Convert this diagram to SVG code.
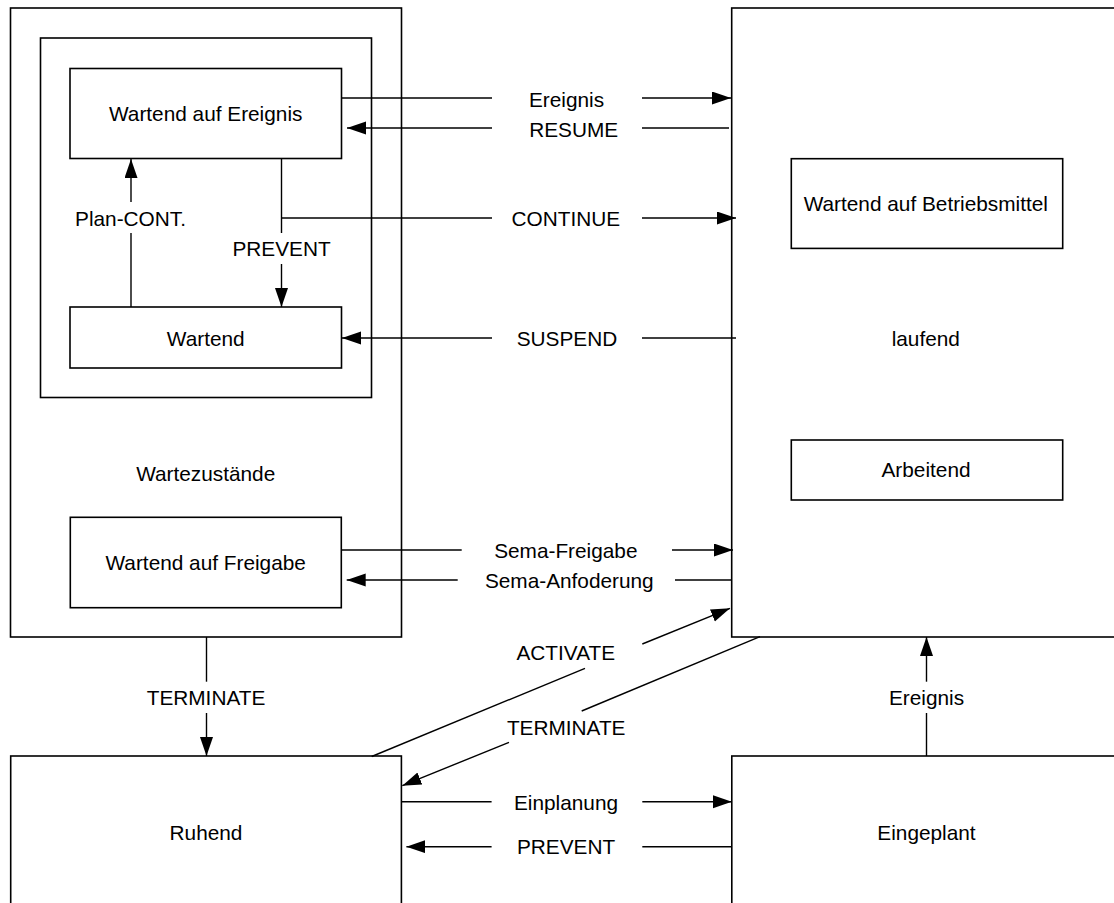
<svg xmlns="http://www.w3.org/2000/svg" width="1114" height="903" viewBox="0 0 1114 903">
  <style>
    .box { fill: none; stroke: #000; stroke-width: 1.6; }
    .ln { fill: none; stroke: #000; stroke-width: 1.4; }
    .arr { marker-end: url(#ah); }
    text { font-family: "Liberation Sans", Arial, sans-serif; font-size: 20.8px; fill: #000; text-anchor: middle; }
  </style>
  <defs>
    <marker id="ah" markerUnits="userSpaceOnUse" markerWidth="20" markerHeight="14" refX="19" refY="6.5" orient="auto">
      <path d="M0,0 L19,6.5 L0,13 z" fill="#000"/>
    </marker>
  </defs>
  <rect width="1114" height="903" fill="#fff"/>

  <!-- waiting states container -->
  <g id="wartezustaende">
    <rect class="box" x="10.5" y="8" width="391" height="629"/>
    <text x="205.7" y="481">Wartezustände</text>
  </g>
  <g id="wartegruppe">
    <rect class="box" x="40.5" y="38" width="331" height="359.5"/>
  </g>
  <g id="wartend-ereignis">
    <rect class="box" x="70" y="68.5" width="271.5" height="90"/>
    <text x="205.7" y="121">Wartend auf Ereignis</text>
  </g>
  <g id="wartend">
    <rect class="box" x="70" y="307" width="271.5" height="61"/>
    <text x="205.7" y="345.7">Wartend</text>
  </g>
  <g id="wartend-freigabe">
    <rect class="box" x="70.3" y="517.3" width="271" height="90.4"/>
    <text x="205.7" y="570">Wartend auf Freigabe</text>
  </g>

  <!-- running state -->
  <g id="laufend">
    <rect class="box" x="731.7" y="8" width="400" height="629"/>
    <text x="925.8" y="346">laufend</text>
  </g>
  <g id="wartend-betriebsmittel">
    <rect class="box" x="791.3" y="158.7" width="271.4" height="89.7"/>
    <text x="925.8" y="211">Wartend auf Betriebsmittel</text>
  </g>
  <g id="arbeitend">
    <rect class="box" x="791.3" y="440" width="271.4" height="60"/>
    <text x="926" y="477.3">Arbeitend</text>
  </g>

  <!-- bottom states -->
  <g id="ruhend">
    <rect class="box" x="10.7" y="756" width="390.7" height="200"/>
    <text x="206" y="840">Ruhend</text>
  </g>
  <g id="eingeplant">
    <rect class="box" x="731.8" y="756" width="400" height="200"/>
    <text x="926.5" y="840">Eingeplant</text>
  </g>

  <!-- transitions -->
  <g id="connectors">
    <path class="ln" d="M341.5,98 H492"/>
    <path class="ln arr" d="M642,98 H731"/>
    <text x="566.5" y="106.7">Ereignis</text>

    <path class="ln" d="M729,128 H642"/>
    <path class="ln arr" d="M492,128 H347"/>
    <text x="573.7" y="136.7">RESUME</text>

    <path class="ln" d="M281.5,158.5 V233"/>
    <path class="ln arr" d="M281.5,264 V307"/>
    <text x="281.5" y="256">PREVENT</text>
    <path class="ln" d="M281.5,218 H492"/>
    <path class="ln arr" d="M642,218 H736"/>
    <text x="565.8" y="225.7">CONTINUE</text>

    <path class="ln" d="M736,338 H642"/>
    <path class="ln arr" d="M492,338 H342"/>
    <text x="567" y="345.7">SUSPEND</text>

    <path class="ln" d="M131,307 V233"/>
    <path class="ln arr" d="M131,202 V159"/>
    <text x="130.5" y="226">Plan-CONT.</text>

    <path class="ln" d="M341.3,550 H461.7"/>
    <path class="ln arr" d="M672,550 H733"/>
    <text x="565.8" y="557.5">Sema-Freigabe</text>

    <path class="ln" d="M731,580 H675"/>
    <path class="ln arr" d="M457.7,580 H346.7"/>
    <text x="569.3" y="587.7">Sema-Anfoderung</text>

    <path class="ln" d="M371.7,756.5 L585,668.3"/>
    <path class="ln arr" d="M642.3,644 L730,608.3"/>
    <text x="565.8" y="660">ACTIVATE</text>

    <path class="ln" d="M760,636.7 L581.7,711"/>
    <path class="ln arr" d="M509,742.3 L402.3,785.7"/>
    <text x="566.2" y="735">TERMINATE</text>

    <path class="ln" d="M206.5,637 V681.7"/>
    <path class="ln arr" d="M206.5,713 V756"/>
    <text x="206" y="705">TERMINATE</text>

    <path class="ln" d="M926.5,756 V713"/>
    <path class="ln arr" d="M926.5,681.7 V637"/>
    <text x="926.5" y="705">Ereignis</text>

    <path class="ln" d="M401.4,801.7 H491.6"/>
    <path class="ln arr" d="M642.3,801.7 H731.8"/>
    <text x="566" y="809.5">Einplanung</text>

    <path class="ln" d="M731.8,846.7 H642.3"/>
    <path class="ln arr" d="M491.6,846.7 H406.4"/>
    <text x="566" y="854.3">PREVENT</text>
  </g>
</svg>
